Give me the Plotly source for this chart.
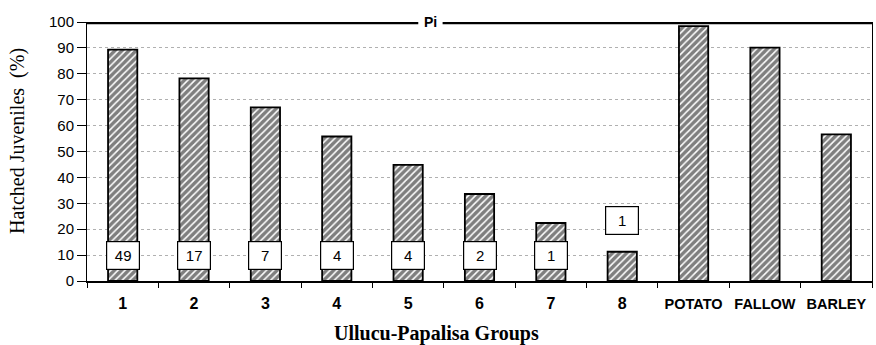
import plotly.graph_objects as go

# ---- data ----
categories = ["1", "2", "3", "4", "5", "6", "7", "8", "POTATO", "FALLOW", "BARLEY"]
hatched = [89.3, 78.2, 67.0, 55.8, 44.8, 33.6, 22.4, 11.3, 98.4, 90.1, 56.6]
box_labels = ["49", "17", "7", "4", "4", "2", "1", "1"]
box_y = [10, 10, 10, 10, 10, 10, 10, 23.5]
y_ticks = [0, 10, 20, 30, 40, 50, 60, 70, 80, 90, 100]
pi_label = "Pi"
pi_level = 100

W, H = 876, 345
ml, mr, mt, mb = 87, 4, 22, 64
pw, ph = W - ml - mr, H - mt - mb

tick_text = [c if c.isdigit() else f"<span style='font-size:14.5px'>{c}</span>" for c in categories]

fig = go.Figure()
fig.add_trace(go.Bar(
    x=categories,
    y=hatched,
    marker=dict(
        color="white",
        line=dict(color="black", width=1.8),
        pattern=dict(shape="/", fgcolor="black", bgcolor="white", size=5, solidity=0.7),
    ),
    showlegend=False,
))

# value boxes (category axis -> use category index)
for i, (lab, yy) in enumerate(zip(box_labels, box_y)):
    fig.add_annotation(
        x=i, y=yy, xref="x", yref="y", text=lab, showarrow=False,
        xanchor="center", yanchor="middle",
        font=dict(family="Arial, Liberation Sans", size=15, color="black"),
        bgcolor="white", bordercolor="black", borderwidth=1.2,
        width=28, height=23, borderpad=2,
    )

# Pi line at 100 with gap for label
gap_l, gap_r = 0.422, 0.453
fig.add_shape(type="line", xref="x domain", yref="y", x0=0, x1=gap_l,
              y0=pi_level, y1=pi_level, line=dict(color="black", width=4.5))
fig.add_shape(type="line", xref="x domain", yref="y", x0=gap_r, x1=1,
              y0=pi_level, y1=pi_level, line=dict(color="black", width=4.5))
fig.add_annotation(x=(gap_l + gap_r) / 2, y=pi_level, xref="x domain", yref="y",
                   text=f"<b>{pi_label}</b>", showarrow=False,
                   xanchor="center", yanchor="middle",
                   font=dict(family="Arial, Liberation Sans", size=14, color="black"))

# axis titles (pixel positions converted to paper coordinates)
fig.add_annotation(x=(436 - ml) / pw, y=(H - mb - 333) / ph, xref="paper", yref="paper",
                   xanchor="center", yanchor="middle",
                   text="<b>Ullucu-Papalisa Groups</b>", showarrow=False,
                   font=dict(family="Liberation Serif, Times New Roman", size=20, color="black"))
fig.add_annotation(x=(17 - ml) / pw, y=(H - mb - 141) / ph, xref="paper", yref="paper",
                   xanchor="center", yanchor="middle",
                   text="Hatched Juveniles  (%)", showarrow=False, textangle=-90,
                   font=dict(family="Liberation Serif, Times New Roman", size=20, color="black"))

fig.update_layout(
    width=W, height=H,
    margin=dict(l=ml, r=mr, t=mt, b=mb, autoexpand=False),
    paper_bgcolor="white", plot_bgcolor="white",
    bargap=0.59,
    font=dict(family="Arial, Liberation Sans", color="black"),
)
fig.update_xaxes(
    type="category", tickvals=categories, ticktext=tick_text,
    tickangle=0, automargin=False,
    tickfont=dict(family="Arial, Liberation Sans", size=16, color="black", weight="bold"),
    showline=True, linecolor="black", linewidth=2,
    ticks="outside", tickson="boundaries", ticklen=5, tickcolor="black",
    ticklabelstandoff=7, showgrid=False,
)
fig.update_yaxes(
    range=[0, 100], tickvals=y_ticks, automargin=False,
    tickfont=dict(family="Arial, Liberation Sans", size=15, color="black"),
    showline=True, linecolor="black", linewidth=1, mirror=True,
    ticks="outside", ticklen=9, tickcolor="black",
    showgrid=True, gridcolor="#b0b0b0", griddash="dot", gridwidth=1,
    zeroline=False,
)

fig.write_html("out.html")
